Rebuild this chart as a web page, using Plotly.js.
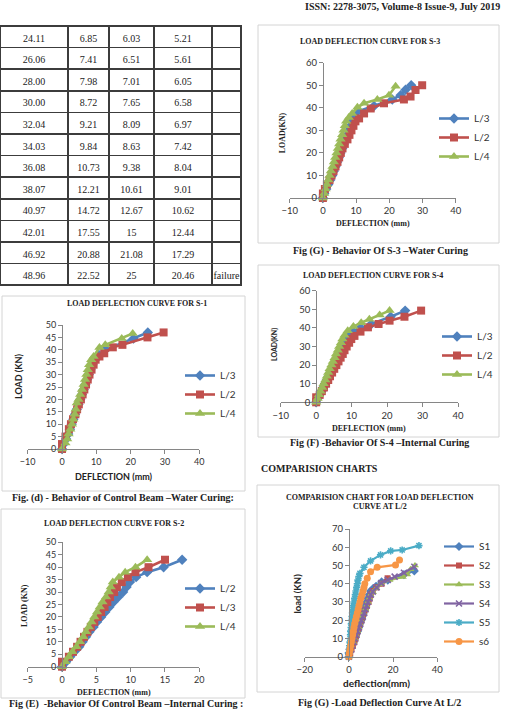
<!DOCTYPE html>
<html>
<head>
<meta charset="utf-8">
<script src="https://cdn.plot.ly/plotly-3.0.1.min.js"></script>
<style>
  html, body { margin: 0; padding: 0; background: #fff; }
  #page { width: 508px; height: 709px; }
</style>
</head>
<body>
<div id="page"></div>
<script>
// ---- Table: load and deflection readings at L/3, L/2, L/4 ----
const tableLoad = ['24.11', '26.06', '28.00', '30.00', '32.04', '34.03', '36.08', '38.07', '40.97', '42.01', '46.92', '48.96'];
const tableL3   = ['6.85', '7.41', '7.98', '8.72', '9.21', '9.84', '10.73', '12.21', '14.72', '17.55', '20.88', '22.52'];
const tableL2   = ['6.03', '6.51', '7.01', '7.65', '8.09', '8.63', '9.38', '10.61', '12.67', '15', '21.08', '25'];
const tableL4   = ['5.21', '5.61', '6.05', '6.58', '6.97', '7.42', '8.04', '9.01', '10.62', '12.44', '17.29', '20.46'];
const tableNote = ['', '', '', '', '', '', '', '', '', '', '', 'failure'];

// ---- S-1 (control beam, water curing) ----
const s1L3Defl = [0, 0.5, 1.2, 1.8, 2.3, 2.8, 3.3, 3.8, 4.3, 4.8, 5.3, 5.8, 6.3, 6.8, 7.3, 7.8, 8.3, 8.9, 9.7, 10.7, 12.6, 20.8, 25.0];
const s1L3Load = [0, 2, 4, 6, 8, 10, 12, 14, 16, 18, 20, 22, 24, 26, 28, 30, 32, 34, 36, 38, 40, 44.5, 47];
const s1L2Defl = [0, 0, 1.0, 2.0, 2.6, 3.2, 3.9, 4.4, 4.9, 5.5, 6.0, 6.5, 7.0, 7.5, 8.0, 8.6, 9.2, 9.8, 10.9, 12.3, 14.8, 17.6, 24.9, 29.6];
const s1L2Load = [0, 2, 5, 8, 10, 12, 14, 16, 18, 20, 22, 24, 26, 28, 30, 32, 34, 36, 37.3, 38.6, 41, 42, 45, 47];
const s1L4Defl = [0, 1.0, 1.5, 1.9, 2.4, 2.9, 3.3, 3.7, 4.0, 4.3, 4.8, 5.3, 5.8, 6.3, 6.7, 7.1, 7.5, 7.9, 8.5, 9.2, 10.9, 12.6, 17.4, 20.6];
const s1L4Load = [0, 2.4, 4, 6, 8, 10, 12, 14, 16, 18.5, 20, 22, 24, 26, 28, 30, 32, 34, 36, 37.3, 40.9, 42, 44.6, 46.6];

// ---- S-2 (control beam, internal curing) ----
const s2Load   = [0, 2, 4, 6, 8, 10, 12, 14, 16, 18, 20, 22, 24, 26, 28, 30, 32, 34, 36, 38, 40, 43];
const s2L2Defl = [0, 0.6, 1.2, 1.8, 2.5, 3.0, 3.5, 4.0, 4.6, 5.1, 5.7, 6.3, 6.9, 7.5, 8.2, 8.9, 9.4, 9.9, 10.8, 12.4, 14.8, 17.5];
const s2L3Defl = [0, 0, 1.0, 1.6, 2.2, 2.7, 3.2, 3.7, 4.2, 4.7, 5.2, 5.7, 6.2, 6.6, 7.0, 7.6, 8.0, 8.7, 9.6, 10.7, 12.6, 15.0];
const s2L4Defl = [0, 0.5, 1.0, 1.5, 2.1, 2.6, 3.1, 3.5, 3.9, 4.3, 4.7, 5.1, 5.5, 5.9, 6.4, 6.8, 7.1, 7.4, 8.3, 9.2, 10.7, 12.4];

// ---- S-3 (water curing) ----
const s3L3Defl = [0, 0.4, 1.0, 1.6, 2.2, 2.8, 3.3, 3.8, 4.3, 4.8, 5.3, 5.8, 6.3, 6.8, 7.3, 7.8, 8.3, 8.8, 9.4, 10.4, 15.4, 20.9, 23.4, 24.9, 26.6];
const s3L3Load = [0, 2, 4, 6, 8, 10, 12, 14, 16, 18, 20, 22, 24, 26, 28, 30, 32, 34, 36, 38.3, 40.8, 43.7, 45.6, 48, 50];
const s3L2Defl = [0, 0, 0.6, 1.2, 2.0, 2.6, 3.2, 3.8, 4.4, 4.9, 5.4, 5.9, 6.6, 7.4, 8.0, 8.6, 9.2, 9.8, 10.9, 12.4, 14.4, 18.4, 24.4, 26.4, 27.9, 29.9];
const s3L2Load = [0, 2, 4, 6, 8, 10, 12, 14, 16, 18, 20, 22, 24, 26, 28, 30, 32, 34, 35.3, 37.5, 39.7, 42, 43.7, 45, 47.9, 50];
const s3L4Defl = [0, 0.4, 0.8, 1.2, 1.6, 2.0, 2.4, 2.9, 3.3, 3.7, 4.1, 4.5, 4.9, 5.3, 5.8, 6.2, 6.6, 7.0, 7.8, 8.8, 10.4, 12.4, 16.4, 19.9, 21.9];
const s3L4Load = [0, 2, 4, 6, 8, 10, 12, 14, 16, 18, 20, 22, 24, 26, 28, 30, 32, 34, 35.7, 37.5, 40.2, 42, 43.7, 45.6, 49.6];

// ---- S-4 (internal curing) ----
const s4L3Defl = [0, 0.4, 0.9, 1.5, 2.0, 2.5, 3.0, 3.5, 4.0, 4.5, 5.0, 5.5, 6.0, 6.5, 7.0, 7.5, 8.0, 8.6, 9.4, 10.5, 12.5, 15.5, 21.0, 25.1];
const s4L3Load = [0, 2, 4, 6, 8, 10, 12, 14, 16, 18, 20, 22, 24, 26, 28, 30, 32, 34, 36, 38, 40, 42, 46, 49.3];
const s4L2Defl = [0, 0, 1.0, 1.6, 2.2, 2.8, 3.4, 3.9, 4.5, 5.1, 5.7, 6.3, 6.9, 7.5, 8.0, 8.6, 9.3, 9.9, 10.8, 12.5, 14.6, 17.6, 20.7, 24.9, 29.6];
const s4L2Load = [0, 2.7, 4, 6, 8, 10, 12, 14, 16, 18, 20, 22, 24, 26, 28, 30, 32, 34, 35.7, 38, 40.3, 42.1, 43.9, 46, 49.3];
const s4L4Defl = [0, 0.4, 0.8, 1.2, 1.7, 2.1, 2.6, 3.0, 3.4, 3.8, 4.3, 4.7, 5.2, 5.6, 6.1, 6.5, 7.0, 7.4, 8.0, 8.9, 10.5, 12.7, 15.0, 17.9, 20.7];
const s4L4Load = [0, 2, 4, 6, 8, 10, 12, 14, 16, 18, 20, 22, 24, 26, 28, 30, 32, 34, 36, 38.5, 40.7, 42.8, 44.6, 47, 49.3];

// ---- Comparison at L/2: S5 and s6 (S1–S4 reuse the L/2 series above) ----
const s5Defl = [0, 0.1, 0.2, 0.3, 0.5, 0.6, 0.7, 0.8, 1.0, 1.1, 1.2, 1.4, 1.6, 1.8, 2.0, 2.3, 2.6, 2.9, 3.2, 3.5, 3.8, 4.1, 4.5, 5.0, 6.8, 9.8, 14.3, 18.9, 24.1, 31.7];
const s5Load = [0, 2, 4, 6, 8, 10, 12, 14, 16, 18, 20, 22, 24, 26, 28, 30, 32, 34, 36, 38, 40, 42, 44, 45.7, 49, 52.5, 55.8, 58, 58.5, 60.9];
const s6Defl = [0, 0.2, 0.5, 0.8, 1.1, 1.4, 1.7, 2.0, 2.3, 2.6, 3.0, 3.4, 3.8, 4.2, 4.6, 5.0, 5.4, 5.9, 6.4, 6.8, 7.2, 8.3, 9.8, 12.8, 21.1, 22.9];
const s6Load = [0, 2, 4, 6, 8, 10, 12, 14, 16, 18, 20, 22, 24, 26, 28, 30, 32, 34, 36, 38, 40, 43, 46.6, 49, 50.3, 53];

// ---------------------------------------------------------------
const W = 508, H = 709;
const SERIF = 'Liberation Serif, Times New Roman, serif';
const SANS = 'Lato, Calibri, sans-serif';
const AXIS_GREY = '#868686';
const TEXT = '#222';
const COL = { blue: '#4F81BD', red: '#C0504D', green: '#9BBB59', purple: '#8064A2', aqua: '#4BACC6', orange: '#F79646' };

const px = v => v / W;
const py = v => 1 - v / H;

const layout = {
  width: W, height: H,
  margin: { l: 0, r: 0, t: 0, b: 0 },
  paper_bgcolor: '#fff', plot_bgcolor: 'rgba(0,0,0,0)',
  showlegend: true,
  annotations: [], shapes: []
};
const data = [];

// Plot frames (page pixels) and axis ranges for each chart
function addAxes(n, f) {
  const s = n === 1 ? '' : String(n);
  const xd = [px(f.left), px(f.right)];
  const yd = [py(f.bottom), py(f.top)];
  const pos = xd[0] + (0 - f.xr[0]) / (f.xr[1] - f.xr[0]) * (xd[1] - xd[0]);
  const common = {
    showgrid: false, zeroline: false, showline: true, linecolor: AXIS_GREY, linewidth: 1,
    ticks: 'outside', ticklen: 4, tickwidth: 1, tickcolor: AXIS_GREY, fixedrange: true,
    tickfont: { family: SANS, size: f.tick || 9, color: '#333' }
  };
  layout['xaxis' + s] = Object.assign({}, common, { domain: xd, range: f.xr, tick0: 0, dtick: f.dx, anchor: 'y' + s });
  layout['yaxis' + s] = Object.assign({}, common, { domain: yd, range: f.yr, tick0: 0, dtick: f.dy, anchor: 'free', position: pos });
  return s;
}

function series(s, name, x, y, color, symbol, size, legend, open, lw) {
  const marker = { symbol: symbol, size: size, color: color, line: { width: 0 } };
  if (open) marker.line = { width: 1.6, color: color };
  return {
    type: 'scatter', mode: 'lines+markers', name: name, x: x, y: y,
    xaxis: 'x' + s, yaxis: 'y' + s, legend: legend,
    line: { color: color, width: lw || 2.6 }, marker: marker,
    hoverinfo: 'skip', cliponaxis: false
  };
}

function legendAt(left, top) {
  return {
    x: px(left), y: py(top), xanchor: 'left', yanchor: 'top',
    bgcolor: 'rgba(0,0,0,0)', borderwidth: 0, itemwidth: 30, tracegroupgap: 0,
    itemclick: false, itemdoubleclick: false,
    font: { family: SANS, size: 10, color: '#333' }
  };
}

function label(x, y, text, font, size, opts) {
  layout.annotations.push(Object.assign({
    xref: 'paper', yref: 'paper', x: px(x), y: py(y), text: text, showarrow: false,
    xanchor: 'center', yanchor: 'middle',
    font: { family: font, size: size, color: TEXT }
  }, opts || {}));
}

function frame(l, t, r, b) {
  layout.shapes.push({
    type: 'rect', xref: 'paper', yref: 'paper',
    x0: px(l), x1: px(r), y0: py(b), y1: py(t),
    line: { color: '#d4d4d4', width: 1 }, fillcolor: 'rgba(0,0,0,0)', layer: 'below'
  });
}

// ---- Table ----
const tableCols = [tableLoad, tableL3, tableL2, tableL4, tableNote];
const rowH = 21.6;
data.push({
  type: 'table',
  domain: { x: [0, px(241)], y: [py(292), py(26)] },
  columnwidth: [68, 41, 45, 58, 29],
  header: {
    values: tableCols.map(c => c[0]), height: rowH, align: 'center',
    line: { color: '#3c3c3c', width: 1.5 }, fill: { color: '#fff' },
    font: { family: SERIF, size: 10, color: TEXT }
  },
  cells: {
    values: tableCols.map(c => c.slice(1)), height: rowH, align: 'center',
    line: { color: '#3c3c3c', width: 1.5 }, fill: { color: '#fff' },
    font: { family: SERIF, size: 10, color: TEXT }
  }
});

// ---- S-1 ----
let s = addAxes(1, { left: 27.7, right: 199.3, top: 325, bottom: 449, xr: [-10, 40], yr: [0, 50], dx: 10, dy: 5 });
data.push(series(s, 'L/3', s1L3Defl, s1L3Load, COL.blue, 'diamond', 8, 'legend'));
data.push(series(s, 'L/2', s1L2Defl, s1L2Load, COL.red, 'square', 8, 'legend'));
data.push(series(s, 'L/4', s1L4Defl, s1L4Load, COL.green, 'triangle-up', 9, 'legend'));
layout.legend = legendAt(180, 361);
frame(2, 296, 245, 491);
label(137, 303, '<b>LOAD DEFLECTION CURVE FOR S-1</b>', SERIF, 8);
label(19, 377, '<b>LOAD (KN)</b>', SANS, 9, { textangle: -90 });
label(114, 476.7, '<b>DEFLECTION (mm)</b>', SANS, 9);
label(122.5, 497.5, '<b>Fig. (d) - Behavior of Control Beam –Water Curing:</b>', SERIF, 10);

// ---- S-2 ----
s = addAxes(2, { left: 27.7, right: 199.3, top: 542.3, bottom: 666.7, xr: [-5, 20], yr: [0, 50], dx: 5, dy: 5 });
data.push(series(s, 'L/2', s2L2Defl, s2Load, COL.blue, 'diamond', 8, 'legend2'));
data.push(series(s, 'L/3', s2L3Defl, s2Load, COL.red, 'square', 8, 'legend2'));
data.push(series(s, 'L/4', s2L4Defl, s2Load, COL.green, 'triangle-up', 9, 'legend2'));
layout.legend2 = legendAt(180, 574);
frame(1, 509, 245, 698);
label(114, 523.3, '<b>LOAD DEFLECTION CURVE FOR S-2</b>', SERIF, 8);
label(24, 606, '<b>LOAD (KN)</b>', SERIF, 8, { textangle: -90 });
label(114, 692.7, '<b>DEFLECTION (mm)</b>', SERIF, 8);
label(126, 704, '<b>Fig (E)  -Behavior Of Control Beam –Internal Curing :</b>', SERIF, 10);

// ---- S-3 ----
s = addAxes(3, { left: 289.7, right: 455.7, top: 62.7, bottom: 198, xr: [-10, 40], yr: [0, 60], dx: 10, dy: 10, tick: 9.5 });
data.push(series(s, 'L/3', s3L3Defl, s3L3Load, COL.blue, 'diamond', 8, 'legend3'));
data.push(series(s, 'L/2', s3L2Defl, s3L2Load, COL.red, 'square', 8, 'legend3'));
data.push(series(s, 'L/4', s3L4Defl, s3L4Load, COL.green, 'triangle-up', 9, 'legend3'));
layout.legend3 = legendAt(434, 104);
frame(258, 25, 499, 243);
label(369.8, 41.7, '<b>LOAD DEFLECTION CURVE FOR S-3</b>', SERIF, 8);
label(282.3, 133, '<b>LOAD(KN)</b>', SERIF, 8, { textangle: -90 });
label(372.7, 224, '<b>DEFLECTION (mm)</b>', SERIF, 8);
label(380, 251, '<b>Fig (G) - Behavior Of S-3 –Water Curing</b>', SERIF, 10);

// ---- S-4 ----
s = addAxes(4, { left: 280.7, right: 458, top: 290.7, bottom: 402.3, xr: [-10, 40], yr: [0, 60], dx: 10, dy: 10, tick: 9.5 });
data.push(series(s, 'L/3', s4L3Defl, s4L3Load, COL.blue, 'diamond', 8, 'legend4'));
data.push(series(s, 'L/2', s4L2Defl, s4L2Load, COL.red, 'square', 8, 'legend4'));
data.push(series(s, 'L/4', s4L4Defl, s4L4Load, COL.green, 'triangle-up', 9, 'legend4'));
layout.legend4 = legendAt(437, 322);
frame(258, 265, 499, 437);
label(373.3, 275, '<b>LOAD DEFLECTION CURVE FOR S-4</b>', SERIF, 8);
label(274, 345, '<b>LOAD(KN)</b>', SANS, 7, { textangle: -90 });
label(369, 428.3, '<b>DEFLECTION (mm)</b>', SERIF, 8);
label(379.7, 443.3, '<b>Fig (F) -Behavior Of S-4 –Internal Curing</b>', SERIF, 10);
label(259, 468.3, '<b>COMPARISION CHARTS</b>', SERIF, 10, { xanchor: 'left' });

// ---- Comparison at L/2 ----
s = addAxes(5, { left: 304.7, right: 437.3, top: 529, bottom: 656.7, xr: [-20, 40], yr: [0, 70], dx: 20, dy: 10, tick: 9.5 });
data.push(series(s, 'S1', s1L2Defl, s1L2Load, COL.blue, 'diamond', 7, 'legend5', false, 2.2));
data.push(series(s, 'S2', s2L2Defl, s2Load, COL.red, 'square', 6, 'legend5', false, 2.2));
data.push(series(s, 'S3', s3L2Defl, s3L2Load, COL.green, 'triangle-up', 7, 'legend5', false, 2.2));
data.push(series(s, 'S4', s4L2Defl, s4L2Load, COL.purple, 'x-thin-open', 6, 'legend5', true, 2.2));
data.push(series(s, 'S5', s5Defl, s5Load, COL.aqua, 'asterisk-open', 6, 'legend5', true, 2.2));
data.push(series(s, 's6', s6Defl, s6Load, COL.orange, 'circle', 7, 'legend5', false, 2.2));
layout.legend5 = legendAt(439, 532);
frame(257, 485, 499, 692);
label(380.2, 497.3, '<b>COMPARISION CHART FOR LOAD DEFLECTION</b>', SERIF, 8);
label(380.2, 506.7, '<b>CURVE AT L/2</b>', SERIF, 8);
label(297.3, 593.3, '<b>load (KN)</b>', SANS, 9.5, { textangle: -90 });
label(376.7, 682.7, '<b>deflection(mm)</b>', SANS, 10);
label(379.8, 702.7, '<b>Fig (G) -Load Deflection Curve At L/2</b>', SERIF, 10);

// ---- Running header ----
label(502, 7, '<b>ISSN: 2278-3075, Volume-8 Issue-9, July 2019</b>', SERIF, 10, { xanchor: 'right' });

Plotly.newPlot('page', data, layout, { staticPlot: true, displayModeBar: false });
</script>
</body>
</html>
